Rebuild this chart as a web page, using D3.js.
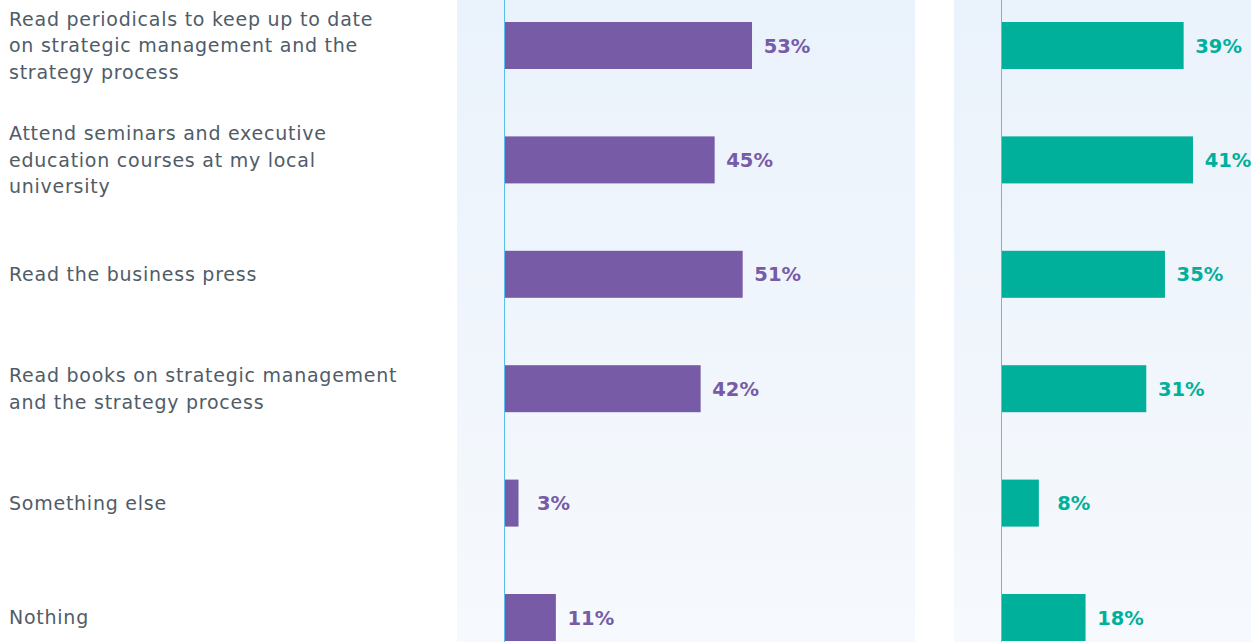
<!DOCTYPE html>
<html>
<head>
<meta charset="utf-8">
<script src="https://cdn.jsdelivr.net/npm/d3@7"></script>
<style>
  html, body { margin: 0; padding: 0; background: #fff; }
  svg { display: block; }
  .cat-label { font-family: "DejaVu Sans", sans-serif; font-size: 19px; letter-spacing: 0.75px; fill: #505c68; }
  .val-label { font-family: "DejaVu Sans", sans-serif; font-size: 19.5px; font-weight: 600; }
</style>
</head>
<body>
<div id="chart"></div>
<script>
// Categories (one line per wrapped row of the label)
const categories = [
    ['Read periodicals to keep up to date', 'on strategic management and the', 'strategy process'],
    ['Attend seminars and executive', 'education courses at my local', 'university'],
    ['Read the business press'],
    ['Read books on strategic management', 'and the strategy process'],
    ['Something else'],
    ['Nothing']
];

const seriesNames = ['Group A', 'Group B'];
const seriesA = [53, 45, 51, 42, 3, 11];
const seriesB = [39, 41, 35, 31, 8, 18];
const seriesColors = ['#775ba7', '#00b09b'];

const width = 1251, height = 642;

const svg = d3.select('#chart').append('svg')
    .attr('width', width)
    .attr('height', height);

const defs = svg.append('defs');
const grad = defs.append('linearGradient')
    .attr('id', 'panel-bg')
    .attr('x1', 0).attr('y1', 0).attr('x2', 0).attr('y2', 1);
grad.append('stop').attr('offset', '0%').attr('stop-color', '#eaf2fb');
grad.append('stop').attr('offset', '100%').attr('stop-color', '#f6f9fd');

// Row positions
const rowKeys = categories.map((d, i) => i);
const y = d3.scalePoint()
    .domain(rowKeys)
    .range([-11.7, 674.7])
    .padding(0.5);
const barHeight = 47;

// Facet panels: 458px wide, 39px gap
const panel = d3.scaleBand()
    .domain(seriesNames)
    .range([457, 457 + 2 * 458 + 39])
    .paddingInner(39 / 497)
    .paddingOuter(0);
const axisOffset = 47.5;
const x = d3.scaleLinear().domain([0, 100]).range([0, 467]);

// Category labels
const lineH = 26.5;
const labels = svg.append('g').attr('class', 'labels');
categories.forEach((lines, i) => {
    const t = labels.append('text')
        .attr('class', 'cat-label')
        .attr('y', y(i) - (lines.length - 1) * lineH / 2);
    lines.forEach((ln, j) => {
        t.append('tspan')
            .attr('x', 9)
            .attr('dy', j === 0 ? '0.35em' : lineH)
            .text(ln);
    });
});

[seriesA, seriesB].forEach((values, s) => {
    const px = panel(seriesNames[s]);
    const g = svg.append('g').attr('transform', `translate(${px},0)`);

    g.append('rect')
        .attr('x', 0).attr('y', 0)
        .attr('width', panel.bandwidth())
        .attr('height', height)
        .attr('fill', 'url(#panel-bg)');

    const plot = g.append('g').attr('transform', `translate(${axisOffset},0)`);

    plot.selectAll('rect.bar')
        .data(values)
        .join('rect')
        .attr('class', 'bar')
        .attr('x', 0)
        .attr('y', (d, i) => y(i) - barHeight / 2)
        .attr('width', d => x(d))
        .attr('height', barHeight)
        .attr('fill', seriesColors[s]);

    plot.selectAll('text.val-label')
        .data(values)
        .join('text')
        .attr('class', 'val-label')
        .attr('x', d => x(d) + 35)
        .attr('y', (d, i) => y(i))
        .attr('dy', '0.36em')
        .attr('text-anchor', 'middle')
        .attr('fill', seriesColors[s])
        .text(d => d + '%');

    plot.append('line')
        .attr('x1', 0).attr('x2', 0)
        .attr('y1', 0).attr('y2', height)
        .attr('stroke', '#5bbdec')
        .attr('stroke-width', 1);
});
</script>
</body>
</html>
